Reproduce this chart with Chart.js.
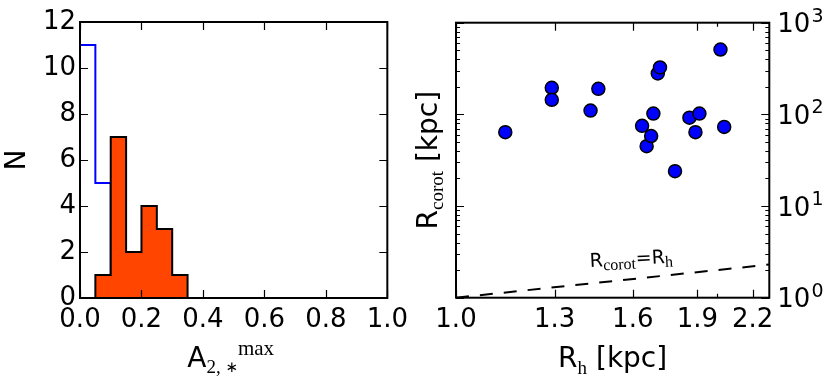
<!DOCTYPE html>
<html>
<head>
<meta charset="utf-8">
<script src="https://cdn.jsdelivr.net/npm/chart.js@4.4.1/dist/chart.umd.min.js"></script>
<style>
body { margin: 0; background: #fff; }
#wrap { position: relative; width: 831px; height: 378px; }
canvas { position: absolute; top: 0; }
</style>
</head>
<body>
<div id="wrap">
  <canvas id="histChart" width="415" height="378" style="left:0px"></canvas>
  <canvas id="scatChart" width="416" height="378" style="left:415px"></canvas>
</div>
<script>
// Histogram (left): left edges of bins + counts, bin width 0.05
const binWidth = 0.05;
const blueBins = [0.00, 0.05];
const blueCounts = [11, 5];
const redBins = [0.05, 0.10, 0.15, 0.20, 0.25, 0.30];
const redCounts = [1, 7, 2, 4, 3, 1];
const histXTicks = [0, 0.2, 0.4, 0.6, 0.8, 1.0];
const histYTicks = [0, 2, 4, 6, 8, 10, 12];

// Scatter (right): R_h [kpc] vs R_corot [kpc]
const rh     = [1.14, 1.29, 1.29, 1.43, 1.46, 1.64, 1.66, 1.68, 1.69, 1.71, 1.72, 1.79, 1.86, 1.91, 1.89, 2.02, 2.04];
const rcorot = [64, 195, 144, 110, 190, 75, 45, 58, 102, 280, 325, 24, 92, 102, 64, 510, 73];
const rhTicks = [1.0, 1.3, 1.6, 1.9, 2.2];
const rhMinor = [2.0];
const decades = [1, 10, 100, 1000];
const oneToOne = [1.0, 2.3]; // R_corot = R_h

const SANS = '"DejaVu Sans", sans-serif';
const SERIF = '"Liberation Serif", serif';

// histogram bins -> points for a stepped line
function stepPoints(bins, counts) {
    const pts = [{ x: bins[0], y: 0 }];
    bins.forEach((b, i) => pts.push({ x: b, y: counts[i] }));
    pts.push({ x: bins[bins.length - 1] + binWidth, y: 0 });
    return pts;
}

// text with sub/superscripts: parts = [text, size, family, dy]
function drawParts(ctx, parts, x, y, align) {
    let total = 0;
    const w = parts.map(p => {
        ctx.font = p[1] + 'px ' + p[2];
        const m = ctx.measureText(p[0]).width;
        total += m;
        return m;
    });
    let cx = align === 'center' ? x - total / 2 : x;
    ctx.textAlign = 'left';
    ctx.textBaseline = 'alphabetic';
    parts.forEach((p, i) => {
        ctx.font = p[1] + 'px ' + p[2];
        ctx.fillText(p[0], cx, y + p[3]);
        cx += w[i];
    });
}

// inward tick marks + frame
function drawFrame(chart, xMajor, xMinor, yMajor, yMinor) {
    const { ctx, chartArea: a } = chart;
    const sx = chart.scales.x, sy = chart.scales.y;
    ctx.save();
    ctx.strokeStyle = '#000';
    ctx.lineWidth = 1.2;
    ctx.beginPath();
    xMajor.map(v => [v, 8]).concat(xMinor.map(v => [v, 4])).forEach(([v, len]) => {
        const p = Math.round(sx.getPixelForValue(v)) + 0.5;
        ctx.moveTo(p, a.bottom); ctx.lineTo(p, a.bottom - len);
        ctx.moveTo(p, a.top); ctx.lineTo(p, a.top + len);
    });
    yMajor.map(v => [v, 8]).concat(yMinor.map(v => [v, 4])).forEach(([v, len]) => {
        const p = Math.round(sy.getPixelForValue(v)) + 0.5;
        ctx.moveTo(a.left, p); ctx.lineTo(a.left + len, p);
        ctx.moveTo(a.right, p); ctx.lineTo(a.right - len, p);
    });
    ctx.stroke();
    ctx.lineWidth = 2;
    ctx.strokeRect(a.left, a.top, a.right - a.left, a.bottom - a.top);
    ctx.restore();
}

// Biểu đồ trái: histogram
const histChart = new Chart(document.getElementById('histChart'), {
    type: 'line',
    data: {
        datasets: [
            {
                data: stepPoints(redBins, redCounts),
                stepped: true,
                borderColor: '#000',
                borderWidth: 2,
                backgroundColor: '#ff4500',
                fill: 'origin',
                pointRadius: 0,
                order: 0
            },
            {
                data: stepPoints(blueBins, blueCounts),
                stepped: true,
                borderColor: '#0000ff',
                borderWidth: 2,
                fill: false,
                pointRadius: 0,
                order: 1
            }
        ]
    },
    options: {
        responsive: false,
        animation: false,
        layout: { padding: { top: 22, right: 22, left: 0, bottom: 0 } },
        plugins: { legend: { display: false }, tooltip: { enabled: false } },
        scales: {
            x: {
                type: 'linear', min: 0, max: 1,
                grid: { display: false, drawTicks: false },
                border: { display: false },
                afterBuildTicks: s => { s.ticks = histXTicks.map(v => ({ value: v })); },
                afterFit: s => { s.height = 80; },
                ticks: {
                    autoSkip: false, maxRotation: 0, padding: 7, color: '#000',
                    font: { family: SANS, size: 26 },
                    callback: v => Number(v).toFixed(1)
                }
            },
            y: {
                type: 'linear', min: 0, max: 12,
                grid: { display: false, drawTicks: false },
                border: { display: false },
                afterBuildTicks: s => { s.ticks = histYTicks.map(v => ({ value: v })); },
                afterFit: s => { s.width = 80; },
                ticks: { padding: 4, color: '#000', font: { family: SANS, size: 26 } }
            }
        }
    },
    plugins: [{
        id: 'histDeco',
        afterDatasetsDraw(chart) {
            drawFrame(chart, histXTicks, [], histYTicks, []);
            const { ctx, chartArea: a } = chart;
            ctx.save();
            ctx.fillStyle = '#000';
            // y title
            ctx.translate(25, (a.top + a.bottom) / 2);
            ctx.rotate(-Math.PI / 2);
            drawParts(ctx, [['N', 28, SANS, 0]], 0, 0, 'center');
            ctx.restore();
            ctx.save();
            ctx.fillStyle = '#000';
            drawParts(ctx, [
                ['A', 28, SANS, 0],
                ['2, ', 19, SERIF, 6],
                ['\u2217', 15, SANS, 5],
                ['max', 21, SERIF, -12]
            ], (a.left + a.right) / 2 - 3, 367, 'center');
            ctx.restore();
        }
    }]
});

// Biểu đồ phải: scatter log-log
const scatChart = new Chart(document.getElementById('scatChart'), {
    type: 'scatter',
    data: {
        datasets: [
            {
                data: rh.map((x, i) => ({ x: x, y: rcorot[i] })),
                backgroundColor: '#0000ff',
                borderColor: '#000',
                borderWidth: 1.5,
                pointRadius: 6.5,
                order: 0
            },
            {
                type: 'line',
                data: oneToOne.map(v => ({ x: v, y: v })),
                borderColor: '#000',
                borderWidth: 2,
                borderDash: [13, 11],
                pointRadius: 0,
                fill: false,
                order: 1
            }
        ]
    },
    options: {
        responsive: false,
        animation: false,
        layout: { padding: { top: 22.7, left: 41, right: 0, bottom: 0 } },
        plugins: { legend: { display: false }, tooltip: { enabled: false } },
        scales: {
            x: {
                type: 'logarithmic', min: 1, max: 2.3,
                grid: { display: false, drawTicks: false },
                border: { display: false },
                afterBuildTicks: s => { s.ticks = rhTicks.map(v => ({ value: v })); },
                afterFit: s => { s.height = 80.3; },
                ticks: {
                    autoSkip: false, maxRotation: 0, padding: 7, color: '#000',
                    font: { family: SANS, size: 26 },
                    callback: v => Number(v).toFixed(1)
                }
            },
            y: {
                type: 'logarithmic', position: 'right', min: 1, max: 1000,
                grid: { display: false, drawTicks: false },
                border: { display: false },
                ticks: { display: false },
                afterFit: s => { s.width = 61.7; }
            }
        }
    },
    plugins: [{
        id: 'scatDeco',
        afterDatasetsDraw(chart) {
            const minorY = [];
            decades.slice(0, -1).forEach(d => { for (let k = 2; k < 10; k++) minorY.push(d * k); });
            drawFrame(chart, rhTicks, rhMinor, decades, minorY);
            const { ctx, chartArea: a, scales } = chart;
            ctx.save();
            ctx.fillStyle = '#000';
            // right tick labels 10^n
            decades.forEach((d, e) => {
                const py = scales.y.getPixelForValue(d);
                ctx.font = '26px ' + SANS;
                ctx.textAlign = 'left';
                ctx.textBaseline = 'alphabetic';
                ctx.fillText('10', a.right + 8, py + 9.5);
                const w = ctx.measureText('10').width;
                ctx.font = '19px ' + SANS;
                ctx.fillText(String(e), a.right + 9 + w, py - 1);
            });
            // x title
            drawParts(ctx, [
                ['R', 28, SANS, 0],
                ['h', 19, SERIF, 7],
                [' [kpc]', 28, SANS, 0]
            ], (a.left + a.right) / 2, 367, 'center');
            // 1:1 line label
            ctx.save();
            ctx.translate(175, 267);
            ctx.rotate(-3 * Math.PI / 180);
            drawParts(ctx, [
                ['R', 19, SANS, 0],
                ['corot', 16, SERIF, 4],
                ['=', 19, SANS, 0],
                ['R', 19, SANS, 0],
                ['h', 16, SERIF, 4]
            ], 0, 0, 'left');
            ctx.restore();
            // y title
            ctx.translate(21.5, (a.top + a.bottom) / 2);
            ctx.rotate(-Math.PI / 2);
            drawParts(ctx, [
                ['R', 28, SANS, 0],
                ['corot', 19, SERIF, 6],
                [' [kpc]', 28, SANS, 0]
            ], 0, 0, 'center');
            ctx.restore();
        }
    }]
});
</script>
</body>
</html>
